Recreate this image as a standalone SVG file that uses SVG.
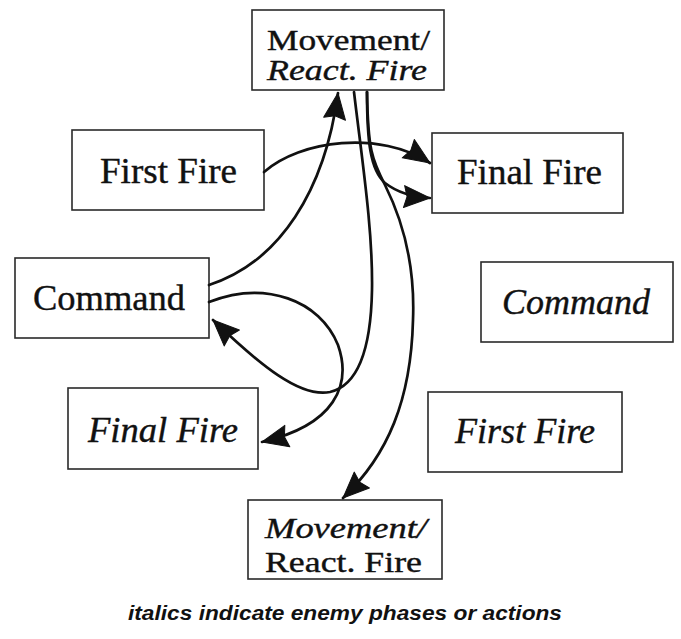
<svg xmlns="http://www.w3.org/2000/svg" width="681" height="639" viewBox="0 0 681 639">
  <style>
    .box { fill: #ffffff; stroke: #2a2a2a; stroke-width: 1.6; }
    .lbl { font-family: "Liberation Serif", "Times New Roman", serif; font-size: 36px; fill: #111111; stroke: #111111; stroke-width: 0.4; }
    .two { font-size: 30px; }
    .it { font-style: italic; }
    .wire { fill: none; stroke: #111111; stroke-width: 2.7; stroke-linecap: round; }
    .note { font-family: "Liberation Sans", Arial, sans-serif; font-size: 20px; font-weight: bold; font-style: italic; fill: #111111; }
  </style>
  <defs>
    <marker id="arrow" markerUnits="userSpaceOnUse" markerWidth="32" markerHeight="26" refX="26" refY="11" orient="auto" overflow="visible">
      <path d="M0,0 L26,11 L0,22 L3,11 Z" fill="#111111" stroke="#111111" stroke-width="1" stroke-linejoin="round"/>
    </marker>
  </defs>
  <rect width="681" height="639" fill="#ffffff"/>

  <!-- phase boxes -->
  <g id="movement-top">
    <rect class="box" x="252" y="10" width="192" height="80"/>
    <text class="lbl two" x="267" y="50" textLength="163" lengthAdjust="spacingAndGlyphs">Movement/</text>
    <text class="lbl two it" x="267" y="80" textLength="160" lengthAdjust="spacingAndGlyphs">React. Fire</text>
  </g>
  <g id="first-fire">
    <rect class="box" x="72" y="130" width="192" height="80"/>
    <text class="lbl" x="100" y="183" textLength="137" lengthAdjust="spacingAndGlyphs">First Fire</text>
  </g>
  <g id="final-fire">
    <rect class="box" x="432" y="133" width="191" height="80"/>
    <text class="lbl" x="457" y="184" textLength="145" lengthAdjust="spacingAndGlyphs">Final Fire</text>
  </g>
  <g id="command">
    <rect class="box" x="15" y="258" width="194" height="80"/>
    <text class="lbl" x="33" y="310" textLength="152" lengthAdjust="spacingAndGlyphs">Command</text>
  </g>
  <g id="enemy-command">
    <rect class="box" x="481" y="262" width="192" height="80"/>
    <text class="lbl it" x="502" y="314" textLength="148" lengthAdjust="spacingAndGlyphs">Command</text>
  </g>
  <g id="enemy-final-fire">
    <rect class="box" x="68" y="388" width="190" height="81"/>
    <text class="lbl it" x="88" y="442" textLength="150" lengthAdjust="spacingAndGlyphs">Final Fire</text>
  </g>
  <g id="enemy-first-fire">
    <rect class="box" x="428" y="392" width="194" height="80"/>
    <text class="lbl it" x="455" y="443" textLength="140" lengthAdjust="spacingAndGlyphs">First Fire</text>
  </g>
  <g id="enemy-movement">
    <rect class="box" x="248" y="500" width="194" height="79"/>
    <text class="lbl two it" x="265" y="538" textLength="162" lengthAdjust="spacingAndGlyphs">Movement/</text>
    <text class="lbl two" x="265" y="572" textLength="157" lengthAdjust="spacingAndGlyphs">React. Fire</text>
  </g>

  <!-- transitions -->
  <g id="connectors">
    <path class="wire" marker-end="url(#arrow)" d="M264,172 C300,140 380,130 430,163"/>
    <path class="wire" marker-end="url(#arrow)" d="M209,285 C280,262 325,190 338,93"/>
    <path class="wire" marker-end="url(#arrow)" d="M367,92 C367,140 370,170 385,183 C398,193 412,197 430,198"/>
    <path class="wire" marker-end="url(#arrow)" d="M367,92 C368,150 372,160 385,185 C405,225 415,270 413,320 C411,400 388,455 343,498"/>
    <path class="wire" marker-end="url(#arrow)" d="M354,92 C362,160 373,230 372,290 C371,345 360,385 330,392 C300,398 260,365 213,320"/>
    <path class="wire" marker-end="url(#arrow)" d="M209,302 C265,280 320,300 338,345 C352,385 335,425 262,442"/>
  </g>

  <text class="note" x="128" y="620" textLength="434" lengthAdjust="spacingAndGlyphs">italics indicate enemy phases or actions</text>
</svg>
